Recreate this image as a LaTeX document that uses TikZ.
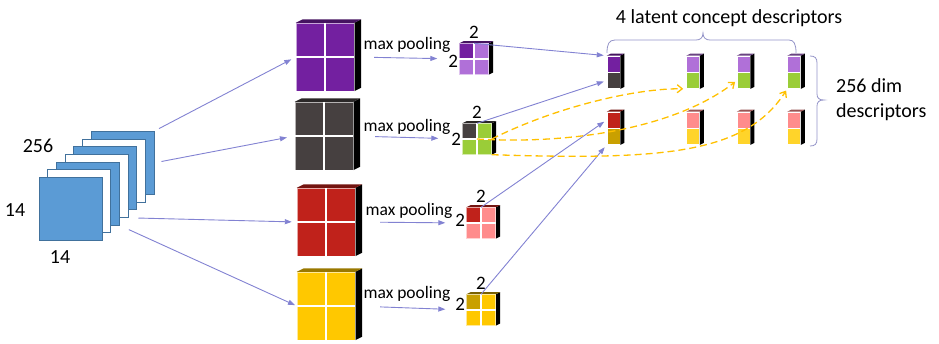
\documentclass[tikz,border=0pt]{standalone}
\usepackage{fontspec}
\setmainfont{Carlito}
\usetikzlibrary{arrows.meta,positioning}
\definecolor{mapblue}{HTML}{5B9BD5}
\definecolor{mapedge}{HTML}{41719C}
\definecolor{arrblue}{HTML}{8282D2}
\definecolor{flowor}{HTML}{FFC000}
\definecolor{brcol}{HTML}{9494C8}
\definecolor{fpurple}{HTML}{7320A0}
\definecolor{lpurple}{HTML}{B070D8}
\definecolor{fgray}{HTML}{464040}
\definecolor{fgreen}{HTML}{9ACD38}
\definecolor{fred}{HTML}{C0221B}
\definecolor{fpink}{HTML}{FF8C8C}
\definecolor{fyellow}{HTML}{FFC800}
\definecolor{fgold}{HTML}{C9A000}
\definecolor{lyellow}{HTML}{FFD42A}

% 2x2 slab on a node: node, depth, TL, TR, BL, BR
\newcommand{\slab}[6]{%
  \fill[black] (#1.north east) -- ++(#2,-#2/2) -- ([shift={(#2,-#2/2)}]#1.south east) -- (#1.south east) -- cycle;
  \fill[#3!60!black] (#1.north west) -- ++(#2,-#2/2) -- ([shift={(#2,-#2/2)}]#1.north east) -- (#1.north east) -- cycle;
  \fill[#3] (#1.north west) rectangle (#1.center);
  \fill[#4] (#1.north) rectangle (#1.east);
  \fill[#5] (#1.west) rectangle (#1.south);
  \fill[#6] (#1.center) rectangle (#1.south east);
  \draw[white, line width=1.3pt] (#1.north) -- (#1.south) (#1.west) -- (#1.east);
  \draw[white, opacity=0.6, line width=0.6pt] (#1.north west) rectangle (#1.south east);
}
% descriptor of two cells: name, x, y, top, bottom
\newcommand{\duo}[5]{%
  \node[dcell, fill=#4] (#1a) at (#2,#3) {};
  \node[dcell, fill=#5, below=0pt of #1a] (#1b) {};
  \fill[black] (#1a.north east) -- ++(4,-2) -- ([shift={(4,-2)}]#1b.south east) -- (#1b.south east) -- cycle;
  \fill[#4!60!black] (#1a.north west) -- ++(4,-2) -- ([shift={(4,-2)}]#1a.north east) -- (#1a.north east) -- cycle;
}

\begin{document}
\begin{tikzpicture}[x=1pt,y=-1pt,
  fmap/.style={draw=mapedge, line width=0.8pt, minimum size=63pt, inner sep=0},
  blk/.style={minimum width=58pt, minimum height=68pt, inner sep=0},
  sblk/.style={minimum width=29pt, minimum height=31pt, inner sep=0},
  dcell/.style={draw=white, line width=0.6pt, minimum width=13pt, minimum height=16pt, inner sep=0},
  arr/.style={draw=arrblue, line width=0.9pt, -{Triangle[length=7pt,width=5pt]}},
  flow/.style={draw=flowor, line width=1.3pt, dash pattern=on 7pt off 4pt, -{Straight Barb[length=5pt,width=8pt]}},
  brc/.style={draw=brcol, line width=0.8pt},
  lbl/.style={font=\fontsize{17.5}{20}\selectfont, inner sep=0},
  num/.style={font=\fontsize{19}{22}\selectfont, inner sep=0},
  big/.style={font=\fontsize{20}{25}\selectfont, inner sep=0}]
\useasboundingbox (0,0) rectangle (939,343);

% input maps
\foreach \i/\c in {6/mapblue,5/white,4/mapblue,3/white,2/mapblue,1/white,0/mapblue}
  \node[fmap, fill=\c] (m\i) at ({70.5+8.7*\i},{209-7.7*\i}) {};
\node[big] (t256) at (38,146) {256};
\node[big] (t14a) at (15,210) {14};
\node[big] (t14b) at (60,257) {14};

% concept maps
\node[blk] (pu) at (325,57) {};
\node[blk] (gr) at (324,136) {};
\node[blk] (rd) at (326,222) {};
\node[blk] (yl) at (326,306) {};
\slab{pu}{7}{fpurple}{fpurple}{fpurple}{fpurple}
\slab{gr}{7}{fgray}{fgray}{fgray}{fgray}
\slab{rd}{7}{fred}{fred}{fred}{fred}
\slab{yl}{7}{fyellow}{fyellow}{fyellow}{fyellow}

% pooled maps
\node[sblk] (sp) at (474,59) {};
\node[sblk] (sg) at (477,139) {};
\node[sblk] (sr) at (481,223) {};
\node[sblk] (sy) at (481,310) {};
\slab{sp}{4.5}{fpurple}{lpurple}{lpurple}{lpurple}
\slab{sg}{4.5}{fgray}{fgreen}{fgreen}{fgreen}
\slab{sr}{4.5}{fred}{fpink}{fpink}{fpink}
\slab{sy}{4.5}{fgold}{fyellow}{fyellow}{fyellow}

\node[num, above=5pt of sp] (sp2t) {2};
\node[num, left=1pt of sp, yshift=-2pt] (sp2l) {2};
\node[num, above=5pt of sg] (sg2t) {2};
\node[num, left=1pt of sg] (sg2l) {2};
\node[num, above=5pt of sr] (sr2t) {2};
\node[num, left=1pt of sr, yshift=3pt] (sr2l) {2};
\node[num, above=5pt of sy] (sy2t) {2};
\node[num, left=1pt of sy, yshift=6pt] (sy2l) {2};

\node[lbl] (mp1) at (407,45) {max pooling};
\node[lbl] (mp2) at (407,127) {max pooling};
\node[lbl] (mp3) at (409,211) {max pooling};
\node[lbl] (mp4) at (407,294) {max pooling};

% descriptors
\duo{d1}{613.5}{64}{fpurple}{fgray}
\duo{d2}{693}{64}{lpurple}{fgreen}
\duo{d3}{743.5}{64}{lpurple}{fgreen}
\duo{d4}{794}{64}{lpurple}{fgreen}
\duo{e1}{613.5}{120}{fred}{fgold}
\duo{e2}{693}{120}{fpink}{lyellow}
\duo{e3}{743.5}{120}{fpink}{lyellow}
\duo{e4}{794}{120}{fpink}{lyellow}

% arrows
\draw[arr, shorten <=5pt, shorten >=5pt] (m6.north east) -- (pu.west);
\draw[arr, shorten <=7pt, shorten >=8pt] (m6.east) -- (gr.west);
\draw[arr, shorten <=10pt, shorten >=5pt] (m3.south east) -- (rd.west);
\draw[arr, shorten <=10pt, shorten >=2pt] (m2.south east) -- (yl.west);

\draw[arr, shorten <=20pt, shorten >=22pt] (pu.east) -- (sp.west);
\draw[arr, shorten <=22pt, shorten >=24pt] (gr.east) -- (sg.west);
\draw[arr, shorten <=25pt, shorten >=21pt] (rd.east) -- (sr.west);
\draw[arr, shorten <=25pt, shorten >=21pt] (yl.east) -- (sy.west);

\draw[arr, shorten >=3pt] (sp.north) -- (d1a.north west);
\draw[arr, shorten >=3pt] (sg.north) -- (d1b.west);
\draw[arr, shorten >=3pt] (sr.north) -- (e1a.west);
\draw[arr, shorten >=3pt] (sy.north) -- (e1b.south west);

\draw[flow, shorten >=3pt] (sg.east) .. controls (560,105) and (640,88) .. (d2b.south west);
\draw[flow, shorten >=2pt] (sg.center) .. controls (580,145) and (680,125) .. (d3b.west);
\draw[flow, shorten >=2pt] (sg.south east) .. controls (660,160) and (745,155) .. (d4b.south west);

% braces
\draw[brc] (607,53) .. controls (607,44) and (609,40) .. (615,40) -- (696,40)
  .. controls (700,40) and (703,38) .. (703,33) .. controls (703,38) and (706,40) .. (710,40)
  -- (789,40) .. controls (794,40) and (796,44) .. (796,53);
\draw[brc] (810,56) .. controls (815,56) and (817,58) .. (817,63) -- (817,94)
  .. controls (817,98) and (819,100) .. (824,100) .. controls (819,100) and (817,102) .. (817,106)
  -- (817,139) .. controls (817,144) and (815,146) .. (810,146);

\node[big] (ttl) at (729,18) {4 latent concept descriptors};
\node[big, align=left, anchor=west] (tdim) at (836,100) {256 dim\\descriptors};
\end{tikzpicture}
\end{document}
